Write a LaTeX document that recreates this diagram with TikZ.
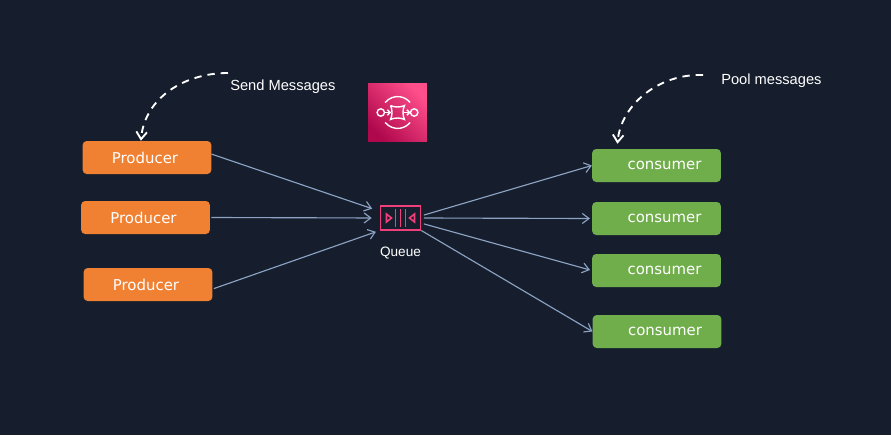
\documentclass[tikz,border=0pt]{standalone}
\usepackage{fontspec}
\setmainfont{Liberation Sans}
\newfontfamily\boxfont{DejaVu Sans}
\usepackage{xcolor}
\usepackage{tikz}
\usetikzlibrary{calc, positioning, arrows.meta}

\definecolor{bgdark}{HTML}{161E2D}
\definecolor{prodorange}{HTML}{F08133}
\definecolor{consgreen}{HTML}{70AE4B}
\definecolor{flowblue}{HTML}{8CA3C4}
\definecolor{queuepink}{HTML}{F0407B}
\definecolor{sqsdark}{HTML}{B0084D}
\definecolor{sqslight}{HTML}{FF4F8B}

\tikzset{
  prodbox/.style = {fill=prodorange, rounded corners=3pt, minimum width=96.5pt, minimum height=24.75pt, inner sep=0pt, text=white, font=\boxfont\fontsize{11.2}{13}\selectfont},
  consbox/.style = {fill=consgreen, rounded corners=3pt, minimum width=96.5pt, minimum height=24.75pt, inner sep=0pt, text=white, font=\boxfont\fontsize{11.2}{13}\selectfont},
  flow/.style = {draw=flowblue, line width=.85pt, -{Straight Barb[length=5pt,width=7.5pt]}},
  note/.style = {text=white, inner sep=0pt, font=\fontsize{11}{13}\selectfont},
  dashline/.style = {draw=white, line width=1.4pt, dash pattern=on 5.5pt off 4.5pt, -{Straight Barb[length=5.5pt,width=8pt]}},
  sqsline/.style = {draw=white, line width=1.05pt},
  queueline/.style = {draw=queuepink, line width=1.2pt}
}

\begin{document}
\begin{tikzpicture}[x=.75pt, y=-.75pt]
\fill[bgdark] (0,0) rectangle (891,435);
\useasboundingbox (0,0) rectangle (891,435);

% producers
\node[prodbox] (prodA) at (147,157.5) {Producer\kern3pt};
\node[prodbox] (prodB) at (145.5,217.5) {Producer\kern3pt};
\node[prodbox] (prodC) at (148,284.5) {Producer\kern3pt};

% consumers
\node[consbox] (consA) at (656.5,165.5) {\hspace{12pt}consumer};
\node[consbox] (consB) at (656.5,218.5) {\hspace{12pt}consumer};
\node[consbox] (consC) at (656.5,270.5) {\hspace{12pt}consumer};
\node[consbox] (consD) at (657,331.5) {\hspace{12pt}consumer};

% queue
\node[queueline, draw, minimum width=30pt, minimum height=18pt, inner sep=0pt] (queue) at (400.5,218) {};
\node[note, font=\fontsize{10.2}{12}\selectfont] (queuelabel) at (400.5,253) {Queue};
\begin{scope}[shift={(queue.center)}, x=.75pt, y=-.75pt]
\foreach \barx in {-5,0,5}
  \draw[queueline] (\barx,-9) -- (\barx,9);
\draw[queueline] (-14,-4) -- (-9,0) -- (-14,4) -- cycle;
\draw[queueline] (14,-4) -- (9,0) -- (14,4) -- cycle;
\end{scope}

% service icon
\node[minimum size=44pt, inner sep=0pt, shading=axis, left color=sqsdark, right color=sqslight, shading angle=135] (sqs) at (397.5,112.5) {};
\begin{scope}[shift={(sqs.center)}, x=.75pt, y=-.75pt]
\draw[sqsline] (-12.3,-10) arc (-141:-39:16);
\draw[sqsline] (-12.3,10) arc (141:39:16);
\draw[sqsline] (-16.7,0) circle (3.7);
\draw[sqsline] (16.7,0) circle (3.7);
\draw[sqsline] (-7,-7) .. controls (-3,-5) and (3,-5) .. (7,-7) .. controls (5,-3) and (5,3) .. (7,7) .. controls (3,5) and (-3,5) .. (-7,7) .. controls (-5,3) and (-5,-3) .. (-7,-7);
\draw[sqsline, -{Straight Barb[length=2pt,width=4pt]}] (-13,0) -- (-6.5,0);
\draw[sqsline, -{Straight Barb[length=2pt,width=4pt]}] (6.5,0) -- (13,0);
\end{scope}

% labels with their curved arrows
\node[note, anchor=west] (sendlabel) at (230,87) {Send Messages};
\node[note, anchor=west] (poollabel) at (721,81) {Pool messages};
\coordinate (sendstart) at (228,73);
\coordinate (poolstart) at (703,75);
\draw[dashline] (sendstart) to[out = 180, in = 85] (prodA.110);
\draw[dashline, shorten >=3.75pt] (poolstart) to[out = 178, in = 85] (consA.157);

% into the queue
\draw[flow, shorten >=6pt] (prodA.3) -- (queue.162);
\draw[flow, shorten >=6pt, shorten <=1pt] (prodB.east) -- (queue.west);
\draw[flow, shorten >=3pt, shorten <=1pt] (prodC.-4) -- (queue.211);

% out of the queue
\draw[flow, shorten <=2pt] (queue.6) -- (consA.west);
\draw[flow, shorten <=2pt, shorten >=1.5pt] (queue.east) -- (consB.west);
\draw[flow, shorten <=2pt, shorten >=1.5pt] (queue.-14) -- (consC.west);
\draw[flow] (queue.-31) -- (consD.west);

\end{tikzpicture}
\end{document}
